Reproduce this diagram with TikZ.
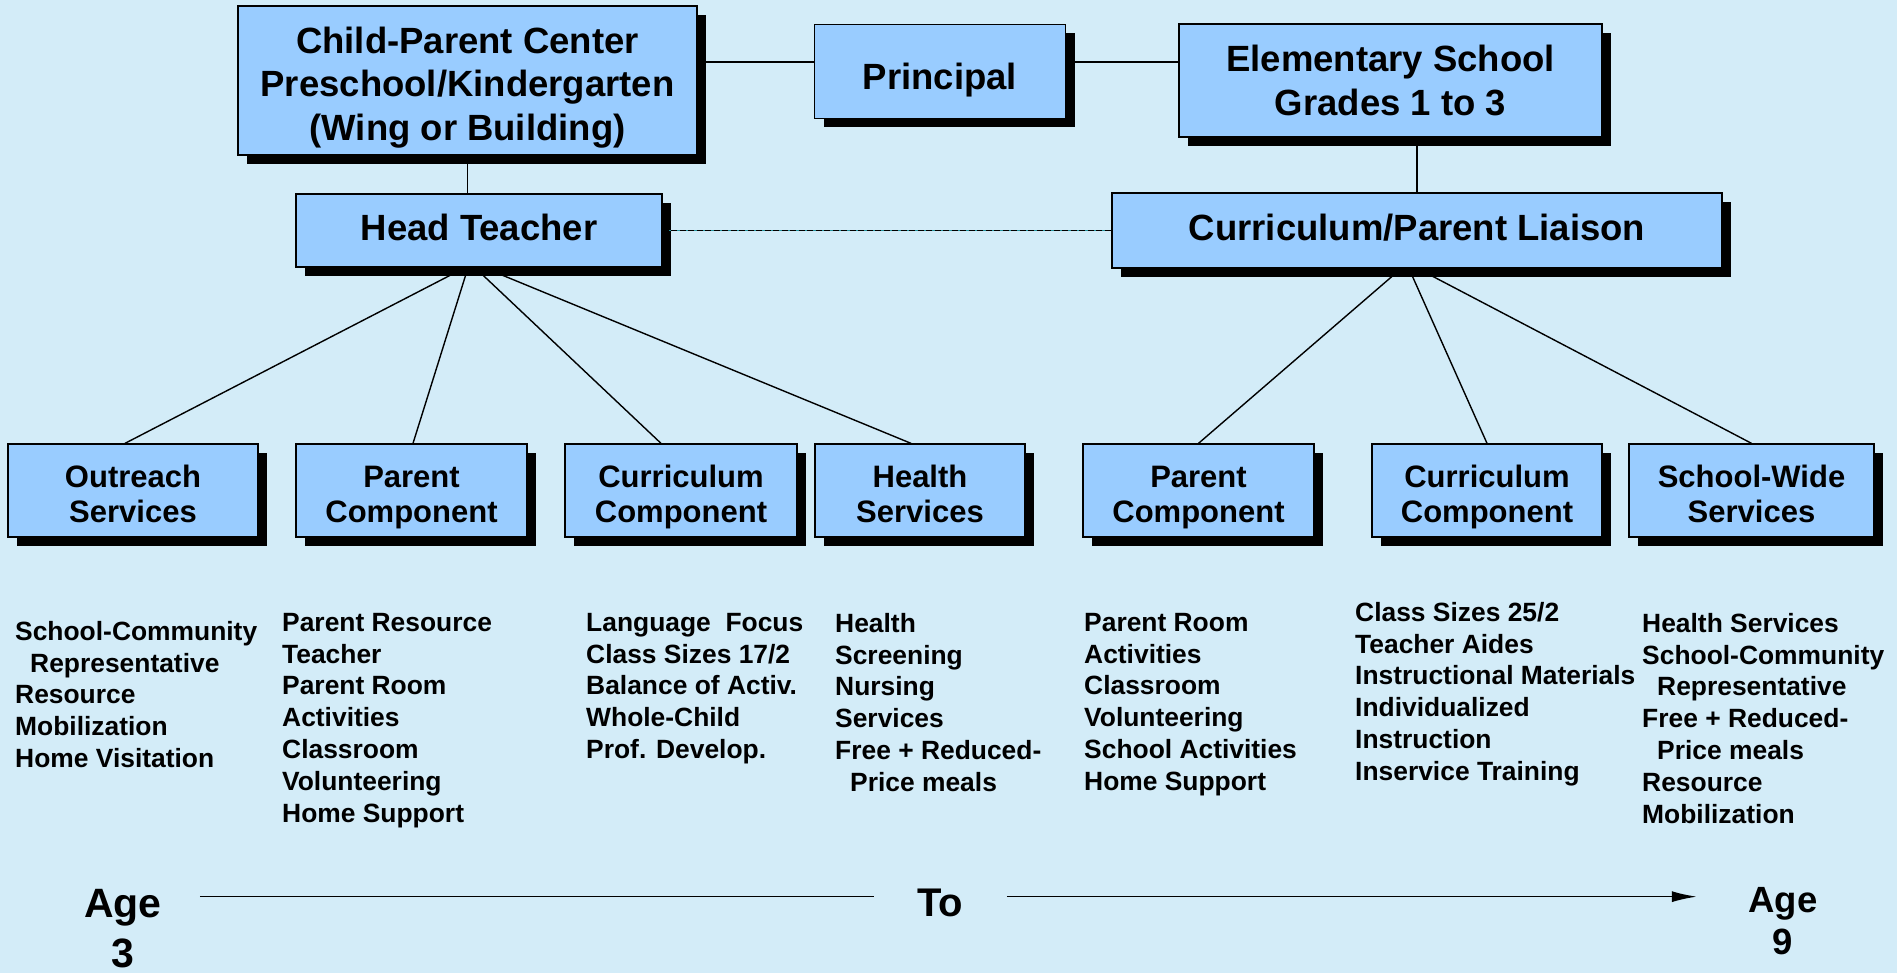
\documentclass[tikz,border=0pt]{standalone}
\usepackage{fontspec}
\setmainfont{Liberation Sans}
\usetikzlibrary{shadows,arrows.meta}
\definecolor{bgblue}{RGB}{211,236,248}
\definecolor{boxblue}{RGB}{153,204,255}
\definecolor{dashteal}{RGB}{40,150,160}
\tikzset{
  orgbox/.style={draw=black, fill=boxblue, line width=1.3pt, align=center, inner sep=0pt,
    drop shadow={shadow xshift=9pt, shadow yshift=-9pt, fill=black, opacity=1},
    font=\bfseries\fontsize{36.5}{43.5}\selectfont},
  lowbox/.style={orgbox, minimum height=93pt, font=\bfseries\fontsize{31}{35}\selectfont},
  itemlist/.style={anchor=north west, align=left, inner sep=0pt, font=\bfseries\fontsize{26.4}{31.8}\selectfont},
  agelabel/.style={anchor=north, align=center, inner sep=0pt},
  wire/.style={line width=1.4pt}
}
% two lines in a component box, sitting a little low as in the original
\newcommand{\lowtext}[2]{\rule{0pt}{34.5pt}#1\\#2\vphantom{p}}

\begin{document}
\begin{tikzpicture}[x=1pt,y=-1pt]
    \useasboundingbox (0,0) rectangle (1897,973);
    \fill[bgblue] (0,0) rectangle (1897,973);

    % Top row
    \node[orgbox, minimum width=459pt, minimum height=149pt] (cpc) at (467.5,80.5) {\rule{0pt}{40pt}Child-Parent Center\\Preschool/Kindergarten\\(Wing or Building)};
    \node[orgbox, minimum width=251pt, minimum height=94pt, text height=37pt, text depth=0pt] (principal) at (940,71.5) {Principal};
    \node[orgbox, minimum width=423pt, minimum height=113pt] (elem) at (1390.5,80.5) {Elementary School\\Grades 1 to 3};

    % Second row
    \node[orgbox, minimum width=366pt, minimum height=73pt, text height=20pt, text depth=0pt] (head) at (479,230.5) {Head Teacher};
    \node[orgbox, minimum width=610pt, minimum height=75pt, text height=21pt, text depth=0pt] (liaison) at (1417,230.5) {Curriculum/Parent Liaison};

    % Components
    \node[lowbox, minimum width=250pt] (outreach) at (133,490.5) {\lowtext{Outreach}{Services}};
    \node[lowbox, minimum width=231pt] (parentL) at (411.5,490.5) {\lowtext{Parent}{Component}};
    \node[lowbox, minimum width=232pt] (currL) at (681,490.5) {\lowtext{Curriculum}{Component}};
    \node[lowbox, minimum width=210pt] (health) at (920,490.5) {\lowtext{Health}{Services}};
    \node[lowbox, minimum width=231pt] (parentR) at (1198.5,490.5) {\lowtext{Parent}{Component}};
    \node[lowbox, minimum width=230pt] (currR) at (1487,490.5) {\lowtext{Curriculum}{Component}};
    \node[lowbox, minimum width=245pt] (school) at (1751.5,490.5) {\lowtext{School-Wide}{Services}};

    % Links
    \draw[wire] ([yshift=9.5pt]principal.west) -- ([yshift=9.5pt]principal.west -| cpc.east);
    \draw[wire] ([yshift=9.5pt]principal.east) -- ([yshift=9.5pt]principal.east -| elem.west);
    \draw[wire] (cpc.south) -- (cpc.south |- head.north);
    \draw[wire] (liaison.north) -- (liaison.north |- elem.south);
    \draw[line width=1.3pt, dashteal, postaction={draw=black, dash pattern=on 6pt off 2.5pt}] (head.east) -- (liaison.west);
    \foreach \b/\s/\e in {outreach/-14/-8, parentL/-11/1.5, currL/-4/-20, health/5/-9}
        \draw[wire] ([xshift=\s pt]head.south) -- ([xshift=\e pt]\b.north);
    \foreach \b/\s in {parentR/-16, currR/-8, school/1}
        \draw[wire] ([xshift=\s pt]liaison.south) -- (\b.north);

    % Lists under the components
    \node[itemlist] (outreachlist) at (15,621) {School-Community\\\hspace*{15pt}Representative\\Resource\\Mobilization\\Home Visitation};
    \node[itemlist] (parentLlist) at (282,613) {Parent Resource\\Teacher\\Parent Room\\Activities\\Classroom\\Volunteering\\Home Support};
    \node[itemlist] (currLlist) at (586,613) {Language\ \ Focus\\Class Sizes 17/2\\Balance of Activ.\\Whole-Child\\Prof. Develop.};
    \node[itemlist] (healthlist) at (835,613) {Health\\Screening\\Nursing\\Services\\Free + Reduced-\\\hspace*{15pt}Price meals};
    \node[itemlist] (parentRlist) at (1084,613) {Parent Room\\Activities\\Classroom\\Volunteering\\School Activities\\Home Support};
    \node[itemlist] (currRlist) at (1355,602) {Class Sizes 25/2\\Teacher Aides\\Instructional Materials\\Individualized\\Instruction\\Inservice Training};
    \node[itemlist] (schoollist) at (1642,613) {Health Services\\School-Community\\\hspace*{15pt}Representative\\Free + Reduced-\\\hspace*{15pt}Price meals\\Resource\\Mobilization};

    % Age axis
    \node[agelabel, font=\bfseries\fontsize{41}{50}\selectfont] (age3) at (123,889) {Age\\3};
    \node[agelabel, font=\bfseries\fontsize{40}{48}\selectfont] (to) at (940,889) {To};
    \node[agelabel, font=\bfseries\fontsize{36.5}{42}\selectfont] (age9) at (1783,887) {Age\\9};
    \draw[line width=1.6pt, shorten <=38pt, shorten >=42.6pt] ([yshift=6.5pt]to.west -| age3.east) -- ([yshift=6.5pt]to.west);
    \draw[line width=1.6pt, shorten <=43.6pt, shorten >=51.5pt, -{Latex[length=25pt,width=11pt]}] ([yshift=6.5pt]to.east) -- ([yshift=6.5pt]to.east -| age9.west);
\end{tikzpicture}
\end{document}
